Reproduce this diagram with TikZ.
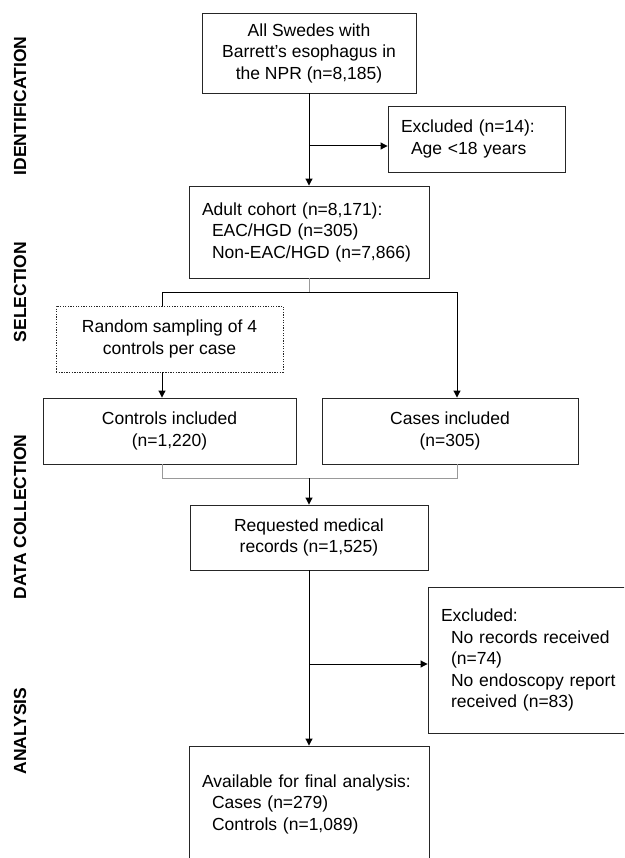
\documentclass[tikz,border=0pt]{standalone}
\usepackage{fontspec}
\setmainfont{Liberation Sans}
\usepackage{xcolor}
\usepackage{tikz}
\usetikzlibrary{arrows.meta}

\tikzset{
  kasten/.style={draw=black!85,line width=0.9pt,font=\fontsize{17.5}{21.5}\selectfont,align=center,inner sep=0pt},
  liste/.style={kasten,align=left,inner xsep=13pt},
  zufall/.style={kasten,dash pattern=on 1.3pt off 1.3pt},
  phase/.style={font=\bfseries\fontsize{17.5}{21}\selectfont,rotate=90},
  pfeil/.style={line width=1pt,-{Triangle[length=7pt,width=7pt]}},
  linie/.style={line width=1pt},
  grau/.style={draw=black!40,line width=0.9pt}
}

\begin{document}
\begin{tikzpicture}[x=1pt,y=-1pt]

\useasboundingbox (0,0) rectangle (624,858);
\clip (0,0) rectangle (624,858);

\node[phase] (lident) at (20,106) {IDENTIFICATION};						% Phasen links
\node[phase] (lsel) at (20,292) {SELECTION};
\node[phase] (ldata) at (20,517) {DATA COLLECTION};
\node[phase] (lana) at (20,731) {ANALYSIS};

\node[kasten,minimum width=214,minimum height=80] (alle) at (309,53) {All Swedes with\\Barrett’s esophagus in\\the NPR (n=8,185)};
\node[liste,minimum width=177,minimum height=66,text width=151] (excl1) at (476.5,139) {Excluded (n=14):\\\hspace*{10pt}Age <18 years};
\node[liste,minimum width=240,minimum height=92,text width=214] (adult) at (309,232) {Adult cohort (n=8,171):\\\hspace*{10pt}EAC/HGD (n=305)\\\hspace*{10pt}Non-EAC/HGD (n=7,866)};

\node[zufall,minimum width=227,minimum height=66] (random) at (169.5,339) {Random sampling of 4\\controls per case};	% gepunktet
\node[kasten,minimum width=253,minimum height=66] (controls) at (169.5,431) {Controls included\\(n=1,220)};
\node[kasten,minimum width=256,minimum height=66] (cases) at (450,431) {Cases included\\(n=305)};

\node[kasten,minimum width=238,minimum height=65] (requested) at (309,537.5) {Requested medical\\records (n=1,525)};
\node[liste,minimum width=212,minimum height=146,text width=186] (excl2) at (534,660) {Excluded:\\\hspace*{10pt}No records received\\\hspace*{10pt}(n=74)\\\hspace*{10pt}No endoscopy report\\\hspace*{10pt}received (n=83)};
\node[liste,minimum width=240,minimum height=116,text width=214] (final) at (309,804) {Available for final analysis:\\\hspace*{10pt}Cases (n=279)\\\hspace*{10pt}Controls (n=1,089)};

\coordinate (b1) at (309,146);		% Abzweig 1
\coordinate (s1) at (162,292);		% Verteilung
\coordinate (s2) at (457,292);
\coordinate (j1) at (162,478);		% Zusammenfuehrung
\coordinate (j2) at (457,478);
\coordinate (b2) at (309,664);		% Abzweig 2

\draw[pfeil] (alle) -- (adult);
\draw[pfeil] (b1) -- (b1 -| excl1.west);

\draw[grau] (adult.south) -- (adult.south |- s1);
\draw[linie] (s1 |- random.north) -- (s1) -- (s2);
\draw[pfeil] (s2) -- (s2 |- cases.north);
\draw[pfeil] (s1 |- random.south) -- (s1 |- controls.north);

\draw[grau] (j1 |- controls.south) -- (j1) -- (j2) -- (j2 |- cases.south);
\draw[pfeil] (requested.north |- j1) -- (requested.north);

\draw[pfeil] (requested) -- (final);
\draw[pfeil] (b2) -- (b2 -| excl2.west);

\end{tikzpicture}
\end{document}
